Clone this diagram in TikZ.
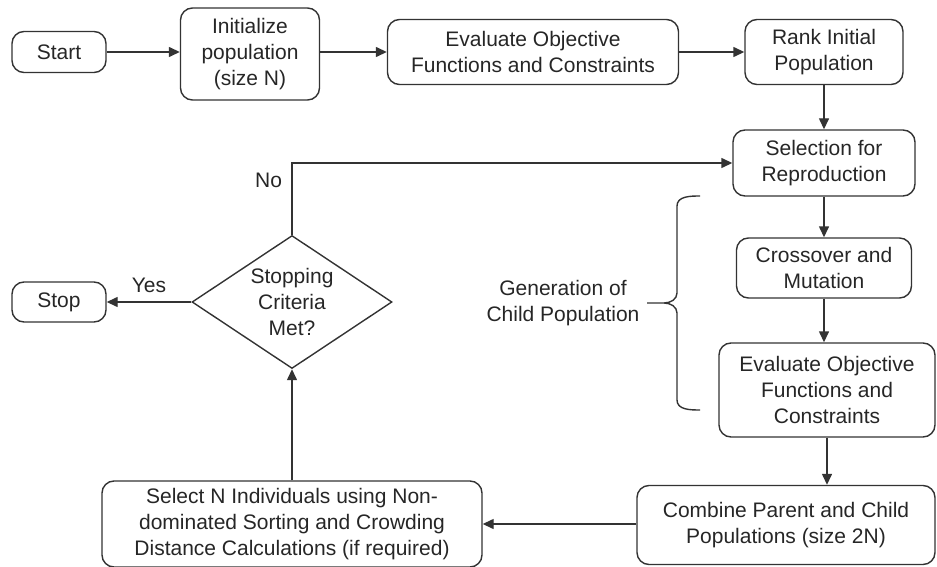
\documentclass[tikz,border=0pt]{standalone}
\usepackage{fontspec}
\setmainfont{Liberation Sans}
\usetikzlibrary{arrows.meta,shapes.geometric}
\begin{document}
\begin{tikzpicture}[x=1pt,y=-1pt,line width=1.4pt,draw=black!80,
	every node/.style={font=\fontsize{21}{26}\selectfont,text=black!85},
	box/.style={draw,rounded corners=12pt,align=center,inner sep=0pt},
	decision/.style={draw,diamond,aspect=1.5,align=center,inner sep=0pt},
	flow/.style={-{Triangle[length=11pt,width=10pt]}}]
\useasboundingbox (0,0) rectangle (937,567);
\node[box,minimum width=94pt,minimum height=41pt] (start) at (59,52) {Start};
\node[box,minimum width=139pt,minimum height=92pt] (init) at (250,54) {Initialize\\population\\(size N)};
\node[box,minimum width=291pt,minimum height=65pt] (evalA) at (533,52) {Evaluate Objective\\Functions and Constraints};
\node[box,minimum width=158pt,minimum height=65pt] (rank) at (824,52) {Rank Initial\\Population};
\node[box,minimum width=182pt,minimum height=66pt] (sel) at (824,163) {Selection for\\Reproduction};
\node[box,minimum width=175pt,minimum height=60pt] (cross) at (824,268) {Crossover and\\Mutation};
\node[box,minimum width=216pt,minimum height=94pt] (evalB) at (827,390) {Evaluate Objective\\Functions and\\Constraints};
\node[box,minimum width=298pt,minimum height=79pt] (comb) at (786,525) {Combine Parent and Child\\Populations (size 2N)};
\node[box,minimum width=380pt,minimum height=86pt] (pick) at (292,524) {Select N Individuals using Non-\\dominated Sorting and Crowding\\Distance Calculations (if required)};
\node[decision,minimum width=200pt,minimum height=133pt] (crit) at (292,302) {Stopping\\Criteria\\Met?};
\node[box,minimum width=94pt,minimum height=40pt] (stop) at (59,302) {Stop};
\node[align=center] (gen) at (563,303) {Generation of\\Child Population};
\draw[flow] (start.east) -- (start.east -| init.west);
\draw[flow] (init.east |- evalA.west) -- (evalA.west);
\draw[flow] (evalA) -- (rank);
\draw[flow] (rank) -- (sel);
\draw[flow] (sel) -- (cross);
\draw[flow] (cross.south) -- (cross.south |- evalB.north);
\draw[flow] (evalB.south) -- (evalB.south |- comb.north);
\draw[flow] (comb.west |- pick.east) -- (pick.east);
\draw[flow] (pick) -- (crit);
\draw[flow] (crit) -- node[above=5pt] {Yes} (stop);
\draw[flow] (crit.north) |- node[pos=0.38,left=6pt] {No} (sel.west);
\draw (700,196) to[out=180,in=90] (677,206) -- (677,293) to[out=-90,in=0] (664,303) -- (gen.east -| 647,0)
	(664,303) to[out=0,in=90] (677,313) -- (677,400) to[out=-90,in=180] (700,410);
\end{tikzpicture}
\end{document}
